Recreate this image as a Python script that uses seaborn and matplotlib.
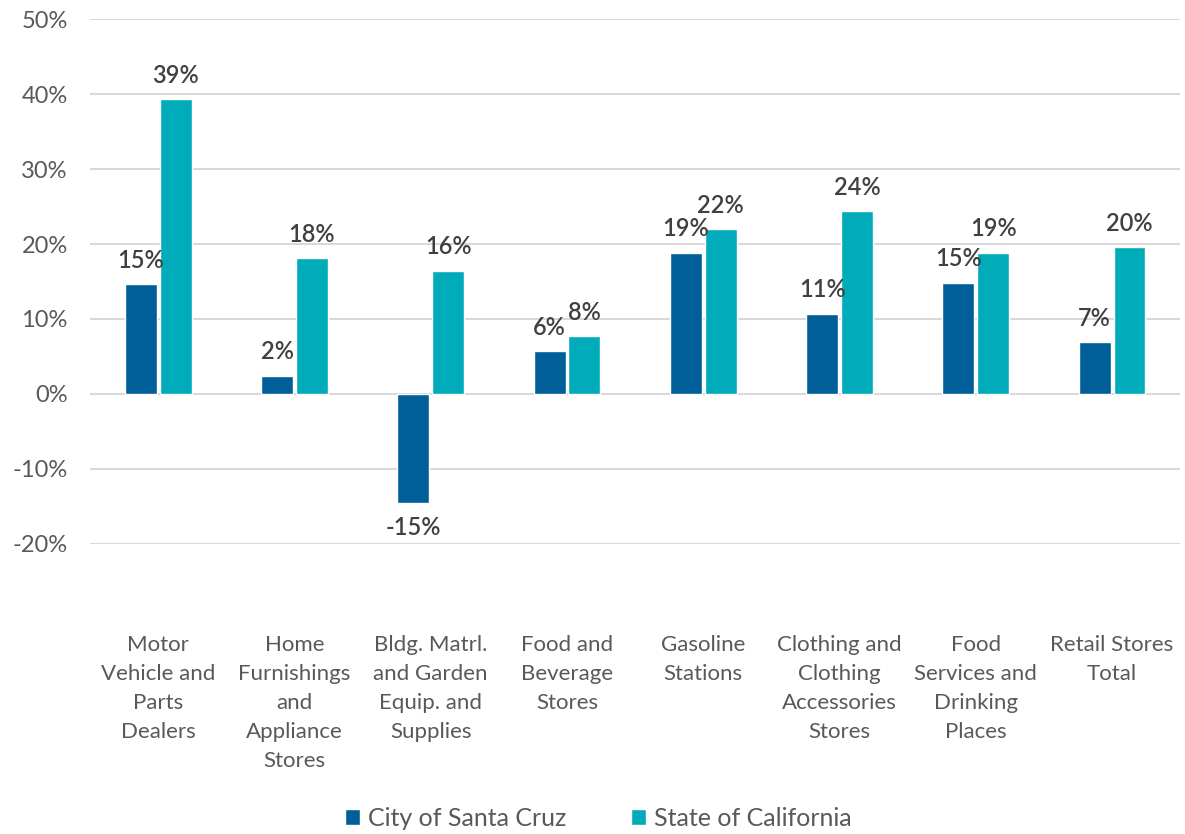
import matplotlib
matplotlib.use("Agg")
import matplotlib.pyplot as plt
import seaborn as sns
import pandas as pd
from matplotlib.ticker import PercentFormatter, MultipleLocator

categories = [
    "Motor\nVehicle and\nParts\nDealers",
    "Home\nFurnishings\nand\nAppliance\nStores",
    "Bldg. Matrl.\nand Garden\nEquip. and\nSupplies",
    "Food and\nBeverage\nStores",
    "Gasoline\nStations",
    "Clothing and\nClothing\nAccessories\nStores",
    "Food\nServices and\nDrinking\nPlaces",
    "Retail Stores\nTotal",
]
city_values = [0.146, 0.024, -0.146, 0.057, 0.188, 0.107, 0.148, 0.069]
state_values = [0.393, 0.181, 0.164, 0.077, 0.220, 0.244, 0.188, 0.196]
series_names = ["City of Santa Cruz", "State of California"]
series_colors = ["#005F99", "#00ACB9"]

df = pd.DataFrame({
    "category": categories * 2,
    "series": [series_names[0]] * len(categories) + [series_names[1]] * len(categories),
    "change": city_values + state_values,
})

sns.set_theme(style="white")
plt.rcParams["font.family"] = ["Lato", "DejaVu Sans"]
plt.rcParams["axes.unicode_minus"] = False

text_gray = "#595959"
label_gray = "#404040"

fig = plt.figure(figsize=(11.85, 8.34), dpi=100)
ax = fig.add_axes([0.076, 0.348, 0.920, 0.629])

sns.barplot(
    data=df, x="category", y="change", hue="series",
    palette=series_colors, width=0.51, gap=0.08,
    order=categories, hue_order=series_names,
    ax=ax, legend=True, saturation=1,
)

ax.set_ylim(-0.2, 0.5)
ax.yaxis.set_major_locator(MultipleLocator(0.1))
ax.yaxis.set_major_formatter(PercentFormatter(1.0, decimals=0))
ax.grid(axis="y", color="#D9D9D9", linewidth=1.5)
ax.set_axisbelow(True)
for s in ax.spines.values():
    s.set_visible(False)
ax.set_xlabel("")
ax.set_ylabel("")
ax.tick_params(axis="y", length=0, pad=16, labelsize=17, labelcolor=text_gray)
ax.tick_params(axis="x", length=0, pad=66, labelsize=16, labelcolor=text_gray)
for t in ax.get_xticklabels():
    t.set_linespacing(1.55)
    t.set_verticalalignment("top")

for container, vals in zip(ax.containers, [city_values, state_values]):
    ax.bar_label(container, labels=[f"{v:.0%}" for v in vals], padding=9,
                 fontsize=17, color=label_gray, fontweight="semibold")

handles, labels = ax.get_legend_handles_labels()
ax.get_legend().remove()
fig.legend(handles, labels, loc="lower center", bbox_to_anchor=(0.505, -0.022),
           ncol=2, frameon=False, fontsize=18, labelcolor=text_gray,
           handlelength=0.6, handleheight=0.6, handletextpad=0.3,
           columnspacing=2.6)

fig.savefig("out.png", dpi=100)
